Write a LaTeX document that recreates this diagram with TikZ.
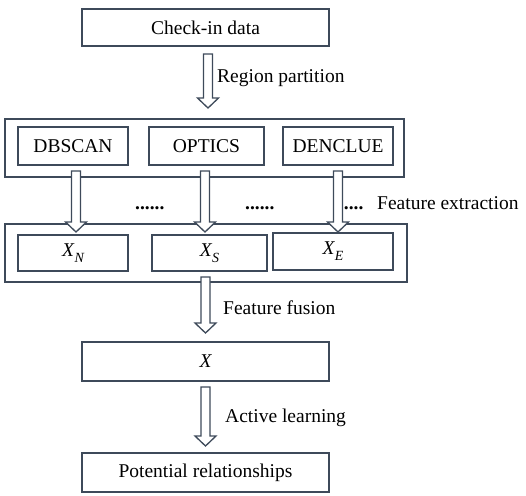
\documentclass[tikz,border=0pt]{standalone}
\usepackage{fontspec}
\setmainfont{Liberation Serif}
\usetikzlibrary{calc}
\definecolor{edge}{RGB}{62,74,90}
\tikzset{
  box/.style={draw=edge, line width=1.3pt, rectangle, inner sep=0pt, font=\fontsize{19.5}{22}\selectfont},
  lbl/.style={inner sep=0pt, anchor=west, font=\fontsize{19.5}{22}\selectfont},
  dots/.style={inner sep=0pt, anchor=base west, font=\fontsize{19.5}{22}\selectfont\bfseries},
  arrowsty/.style={draw=edge, fill=white, line width=1.3pt, line join=miter}
}
\newcommand\blockarrow[2]{\draw[arrowsty] let \p1=(#1), \p2=(#2) in
  (\x1-4.5pt,\y1) -- (\x1+4.5pt,\y1) -- (\x1+4.5pt,\y2+10pt) -- (\x1+10.5pt,\y2+10pt)
  -- (\x1,\y2) -- (\x1-10.5pt,\y2+10pt) -- (\x1-4.5pt,\y2+10pt) -- cycle;}
\newcommand\sub[2]{{\itshape #1}\kern0.5pt\raisebox{-0.3em}{\fontsize{14}{14}\selectfont\itshape #2}}
\begin{document}
\begin{tikzpicture}[x=1pt,y=-1pt]
\useasboundingbox (0,0) rectangle (526,495);
% top box
\node[box, minimum width=247, minimum height=37] (check) at (205.5,27.5) {Check-in data};
% clustering row
\node[box, minimum width=399, minimum height=58] (part) at (204.5,148) {};
\node[box, minimum width=110, minimum height=38] (db) at (73,146) {DBSCAN};
\node[box, minimum width=115, minimum height=38] (op) at (206.5,146) {OPTICS};
\node[box, minimum width=110, minimum height=38] (de) at (338,146) {DENCLUE};
% feature row
\node[box, minimum width=402, minimum height=58] (feat) at (206,253) {};
\node[box, minimum width=110, minimum height=36] (xn) at (73,253) {\sub{X}{N}};
\node[box, minimum width=115, minimum height=36] (xs) at (209.5,253) {\sub{X}{S}};
\node[box, minimum width=120, minimum height=37] (xe) at (333,251.5) {\sub{X}{E}};
% fused
\node[box, minimum width=247, minimum height=39] (x) at (205.5,361.5) {\itshape X};
\node[box, minimum width=247, minimum height=39] (pot) at (205.5,472.5) {Potential relationships};
% dots and labels
\node[dots] (d1) at (135,209) {......};
\node[dots] (d2) at (245,209) {......};
\node[dots] (d3) at (334,209) {......};
\node[lbl] (l1) at (217,78) {Region partition};
\node[lbl] (l2) at (377,203) {Feature extraction};
\node[lbl] (l3) at (223,308) {Feature fusion};
\node[lbl] (l4) at (225,418) {Active learning};
% arrow end points
\coordinate (a1s) at (208,54);   \coordinate (a1e) at (208,108);
\coordinate (a2s) at (76,171);   \coordinate (a2e) at (76,232);
\coordinate (a3s) at (205,171);  \coordinate (a3e) at (205,232);
\coordinate (a4s) at (338,171);  \coordinate (a4e) at (338,232);
\coordinate (a5s) at (205.5,277); \coordinate (a5e) at (205.5,333);
\coordinate (a6s) at (205.5,387); \coordinate (a6e) at (205.5,446);
\blockarrow{a1s}{a1e}
\blockarrow{a2s}{a2e}
\blockarrow{a3s}{a3e}
\blockarrow{a4s}{a4e}
\blockarrow{a5s}{a5e}
\blockarrow{a6s}{a6e}
\end{tikzpicture}
\end{document}
